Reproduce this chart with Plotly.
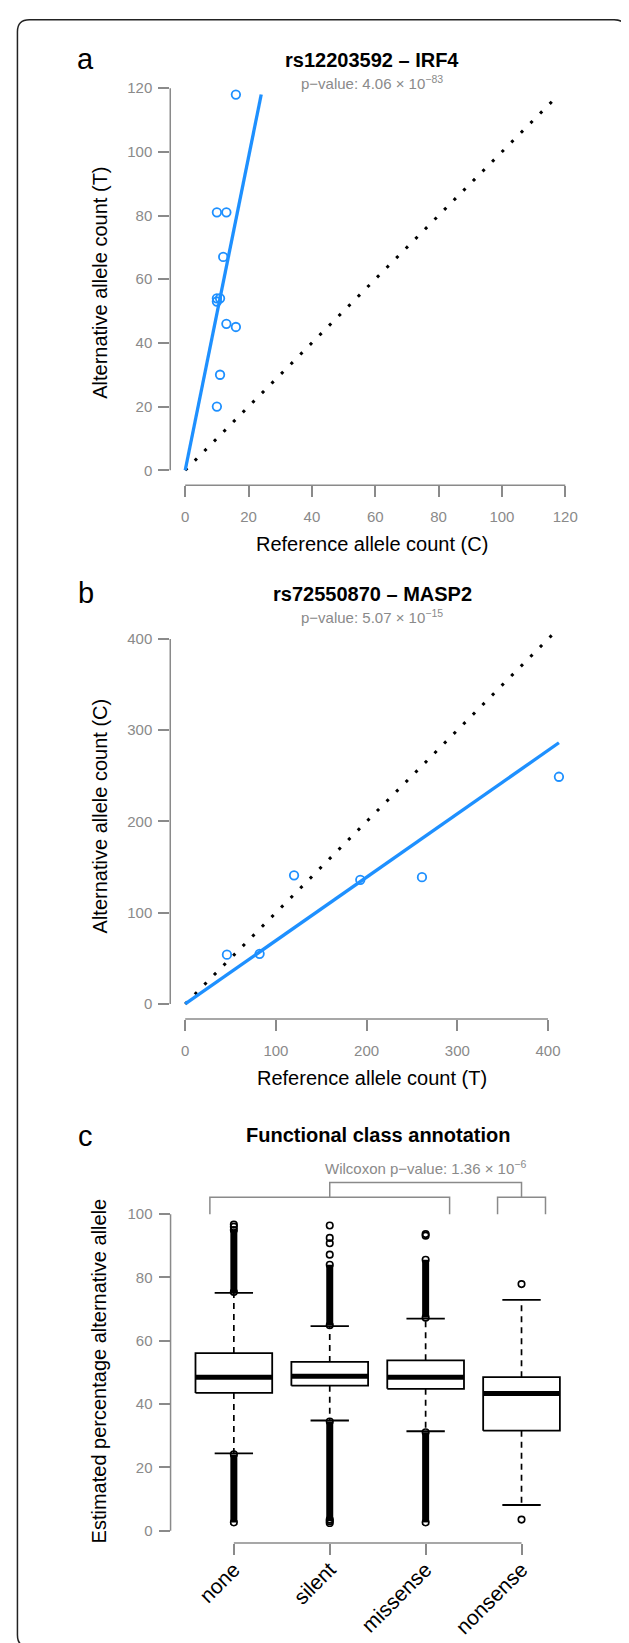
import plotly.graph_objects as go

W, H = 629, 1643
FONT = "Liberation Sans"
GRAY = "#8a8a8a"
BLUE = "#1E90FF"

# ---------------- data ----------------
# panel a
ref_a = [16, 10, 13, 12, 10, 11, 10, 13, 16, 11, 10]
alt_a = [118, 81, 81, 67, 54, 54, 53, 46, 45, 30, 20]
title_a = "rs12203592 – IRF4"
pval_a = ("4.06", "−83")
xlab_a = "Reference allele count (C)"
ylab_a = "Alternative allele count (T)"
ticks_a = [0, 20, 40, 60, 80, 100, 120]

# panel b
ref_b = [46, 82, 120, 193, 261, 412]
alt_b = [54, 55, 141, 136, 139, 249]
title_b = "rs72550870 – MASP2"
pval_b = ("5.07", "−15")
xlab_b = "Reference allele count (T)"
ylab_b = "Alternative allele count (C)"
ticks_b = [0, 100, 200, 300, 400]

# panel c
classes = ["none", "silent", "missense", "nonsense"]
q1 = [43.5, 45.8, 44.8, 31.6]
median = [48.5, 48.8, 48.5, 43.3]
q3 = [56.1, 53.3, 53.8, 48.5]
whisker_lo = [24.4, 34.8, 31.4, 8.1]
whisker_hi = [75.1, 64.6, 67.0, 72.9]
# dense runs of overlapping outliers (lowest, highest)
dense_hi = [(75.4, 95.0), (64.9, 84.0), (67.3, 85.6), None]
dense_lo = [(2.6, 24.1), (3.0, 34.5), (2.6, 31.1), None]
# isolated outliers
sparse_out = [
    [96.0, 96.7],
    [87.2, 90.8, 92.5, 96.4, 2.4, 3.5],
    [93.2, 93.7],
    [77.9, 3.5],
]
title_c = "Functional class annotation"
ylab_c = "Estimated percentage alternative allele"
ticks_c = [0, 20, 40, 60, 80, 100]
wilcox_p = ("1.36", "−6")


# ---------------- geometry helpers (pixels -> paper) ----------------
def fx(px):
    return px / W


def fy(py):
    return 1 - py / H


A_L, A_R, A_T, A_B = 163.3, 569.5, 71.5, 477.3
B_L, B_R, B_T, B_B = 163.3, 569.5, 605.0, 1011.0
C_L, C_R, C_T, C_B = 163.6, 580.5, 1165.0, 1535.0
C_YR = [-3.9, 113.0]

fig = go.Figure()


def axis_common(**kw):
    d = dict(showgrid=False, zeroline=False, showline=False, ticks="outside",
             ticklen=11, tickwidth=1.5, tickcolor=GRAY,
             tickfont=dict(family=FONT, size=15, color=GRAY), fixedrange=True)
    d.update(kw)
    return d


shapes = []
annotations = []


def ann(text, xp, yp, size, color="black", bold=False, angle=0, xanchor="center"):
    if bold:
        text = "<b>" + text + "</b>"
    annotations.append(dict(text=text, x=fx(xp), y=fy(yp), xref="paper", yref="paper",
                            showarrow=False, xanchor=xanchor, yanchor="middle",
                            textangle=angle,
                            font=dict(family=FONT, size=size, color=color)))


def pv(prefix, p):
    return prefix + "p−value: " + p[0] + " × 10<sup>" + p[1] + "</sup>"


def scatter_panel(ref, alt, ticks, xa, ya, L, R, T, B, title, pval, xlab, ylab, letter):
    lim = max(max(ref), max(alt))
    rng = [-0.04 * lim, 1.04 * lim]
    slope = sum(alt) / sum(ref)
    x_end = min(lim, lim / slope)
    # diagonal y = x (dotted)
    fig.add_trace(go.Scatter(x=[0, lim], y=[0, lim], mode="lines",
                             line=dict(color="black", width=3, dash="3px,10.6px"),
                             xaxis=xa, yaxis=ya, hoverinfo="skip"))
    # points
    fig.add_trace(go.Scatter(x=ref, y=alt, mode="markers",
                             marker=dict(symbol="circle-open", size=8.5, color=BLUE,
                                         line=dict(width=1.8, color=BLUE)),
                             xaxis=xa, yaxis=ya))
    # fitted ratio line
    fig.add_trace(go.Scatter(x=[0, x_end], y=[0, slope * x_end], mode="lines",
                             line=dict(color=BLUE, width=3.3),
                             xaxis=xa, yaxis=ya, hoverinfo="skip"))
    xk = "xaxis" if xa == "x" else "xaxis" + xa[1:]
    yk = "yaxis" if ya == "y" else "yaxis" + ya[1:]
    fig.layout[xk] = axis_common(domain=[fx(L), fx(R)], range=rng, tickvals=ticks,
                                 anchor=ya, ticklabelstandoff=7)
    fig.layout[yk] = axis_common(domain=[fy(B), fy(T)], range=rng, tickvals=ticks,
                                 anchor=xa, ticklabelstandoff=3)
    # R-style axis lines spanning first..last tick
    shapes.append(dict(type="line", xref=xa, yref="paper", x0=ticks[0], x1=ticks[-1],
                       y0=fy(B), y1=fy(B), line=dict(color=GRAY, width=1.5)))
    shapes.append(dict(type="line", xref="paper", yref=ya, x0=fx(L), x1=fx(L),
                       y0=ticks[0], y1=ticks[-1], line=dict(color=GRAY, width=1.5)))
    cx = (L + R) / 2
    ann(title, cx, T - 19.5, 20, bold=True)
    ann(pv("", pval), cx, T + 3, 15, GRAY)
    ann(xlab, cx, B + 58.5, 20)
    ann(ylab, 93, (T + B) / 2, 20, angle=-90)
    ann(letter, 78, T - 20.5, 29)


scatter_panel(ref_a, alt_a, ticks_a, "x", "y", A_L, A_R, A_T, A_B,
              title_a, pval_a, xlab_a, ylab_a, "a")
scatter_panel(ref_b, alt_b, ticks_b, "x2", "y2", B_L, B_R, B_T, B_B,
              title_b, pval_b, xlab_b, ylab_b, "b")

# ---------------- panel c: boxplots ----------------
pos = list(range(1, len(classes) + 1))
hw = 0.4      # half box width
cw = 0.2      # half whisker-cap width

wx, wy, bx, by, mx, my, cxs, cys = [], [], [], [], [], [], [], []
for i, p in enumerate(pos):
    wx += [p, p, None, p, p, None]
    wy += [q3[i], whisker_hi[i], None, q1[i], whisker_lo[i], None]
    bx += [p - hw, p + hw, p + hw, p - hw, p - hw, None]
    by += [q1[i], q1[i], q3[i], q3[i], q1[i], None]
    mx += [p - hw, p + hw, None]
    my += [median[i], median[i], None]
    cxs += [p - cw, p + cw, None, p - cw, p + cw, None]
    cys += [whisker_hi[i], whisker_hi[i], None, whisker_lo[i], whisker_lo[i], None]

fig.add_trace(go.Scatter(x=wx, y=wy, mode="lines", xaxis="x3", yaxis="y3",
                         line=dict(color="black", width=1.7, dash="6px,5px"), hoverinfo="skip"))
fig.add_trace(go.Scatter(x=bx, y=by, mode="lines", fill="toself", fillcolor="white",
                         xaxis="x3", yaxis="y3", line=dict(color="black", width=1.8),
                         hoverinfo="skip"))
fig.add_trace(go.Scatter(x=mx, y=my, mode="lines", xaxis="x3", yaxis="y3",
                         line=dict(color="black", width=5), hoverinfo="skip"))
fig.add_trace(go.Scatter(x=cxs, y=cys, mode="lines", xaxis="x3", yaxis="y3",
                         line=dict(color="black", width=1.8), hoverinfo="skip"))

# dense outlier runs
dx, dy, ex, ey = [], [], [], []
for i, p in enumerate(pos):
    for run in (dense_hi[i], dense_lo[i]):
        if run is None:
            continue
        dx += [p, p, None]
        dy += [run[0], run[1], None]
        ex += [p, p]
        ey += [run[0], run[1]]
fig.add_trace(go.Scatter(x=dx, y=dy, mode="lines", xaxis="x3", yaxis="y3",
                         line=dict(color="black", width=7), hoverinfo="skip"))
ox, oy = [], []
for i, p in enumerate(pos):
    ox += [p] * len(sparse_out[i])
    oy += sparse_out[i]
fig.add_trace(go.Scatter(x=ex + ox, y=ey + oy, mode="markers", xaxis="x3", yaxis="y3",
                         marker=dict(symbol="circle-open", size=6.5, color="black",
                                     line=dict(width=1.6, color="black"))))

fig.layout.xaxis3 = axis_common(domain=[fx(C_L), fx(C_R)], range=[0.34, len(classes) + 0.66],
                                tickvals=pos, ticktext=classes, tickangle=-45, anchor="y3",
                                tickfont=dict(family=FONT, size=21, color="black"),
                                ticklabelstandoff=-6)
fig.layout.yaxis3 = axis_common(domain=[fy(C_B), fy(C_T)], range=C_YR,
                                tickvals=ticks_c, anchor="x3", ticklabelstandoff=3)
shapes.append(dict(type="line", xref="x3", yref="paper", x0=pos[0], x1=pos[-1],
                   y0=fy(C_B), y1=fy(C_B), line=dict(color=GRAY, width=1.5)))
shapes.append(dict(type="line", xref="paper", yref="y3", x0=fx(C_L), x1=fx(C_L),
                   y0=ticks_c[0], y1=ticks_c[-1], line=dict(color=GRAY, width=1.5)))

# comparison brackets (group none..missense vs nonsense)
b_lo, b_mid, b_top = 100.0, 105.3, 110.0
grp1 = (pos[0] - 0.25, pos[2] + 0.25)
grp2 = (pos[3] - 0.25, pos[3] + 0.25)
for g in (grp1, grp2):
    shapes.append(dict(type="path", xref="x3", yref="y3",
                       path=f"M {g[0]},{b_lo} L {g[0]},{b_mid} L {g[1]},{b_mid} L {g[1]},{b_lo}",
                       line=dict(color=GRAY, width=1.5)))
m1, m2 = sum(grp1) / 2, sum(grp2) / 2
shapes.append(dict(type="path", xref="x3", yref="y3",
                   path=f"M {m1},{b_mid} L {m1},{b_top} L {m2},{b_top} L {m2},{b_mid}",
                   line=dict(color=GRAY, width=1.5)))

# Wilcoxon label centred over the upper bracket (placed in paper coords)
c_pxu = (C_R - C_L) / (len(classes) + 0.66 - 0.34)
c_pyu = (C_B - C_T) / (C_YR[1] - C_YR[0])
wil_x = C_L + ((m1 + m2) / 2 - 0.34) * c_pxu
wil_y = C_B - (b_top + 4.6 - C_YR[0]) * c_pyu
ann(pv("Wilcoxon ", wilcox_p), wil_x, wil_y, 15, GRAY)
ann(title_c, (C_L + C_R) / 2, 1127, 20, bold=True)
ann(ylab_c, 92, 1363, 20, angle=-90)
ann("c", 78, 1128, 29)

# outer rounded frame
x0, x1, y0, y1, r = 9.5, 622.0, 11.7, 1639.0, 12
frame = (f"M {fx(x0 + r)},{fy(y0)} L {fx(x1 - r)},{fy(y0)} Q {fx(x1)},{fy(y0)} {fx(x1)},{fy(y0 + r)} "
         f"L {fx(x1)},{fy(y1 - r)} Q {fx(x1)},{fy(y1)} {fx(x1 - r)},{fy(y1)} "
         f"L {fx(x0 + r)},{fy(y1)} Q {fx(x0)},{fy(y1)} {fx(x0)},{fy(y1 - r)} "
         f"L {fx(x0)},{fy(y0 + r)} Q {fx(x0)},{fy(y0)} {fx(x0 + r)},{fy(y0)} Z")
shapes.append(dict(type="path", xref="paper", yref="paper", path=frame,
                   line=dict(color="#222222", width=1.5)))

fig.update_layout(width=W, height=H, margin=dict(l=0, r=0, t=0, b=0),
                  paper_bgcolor="white", plot_bgcolor="rgba(0,0,0,0)",
                  showlegend=False, shapes=shapes, annotations=annotations,
                  font=dict(family=FONT))

fig.write_html("out.html")
